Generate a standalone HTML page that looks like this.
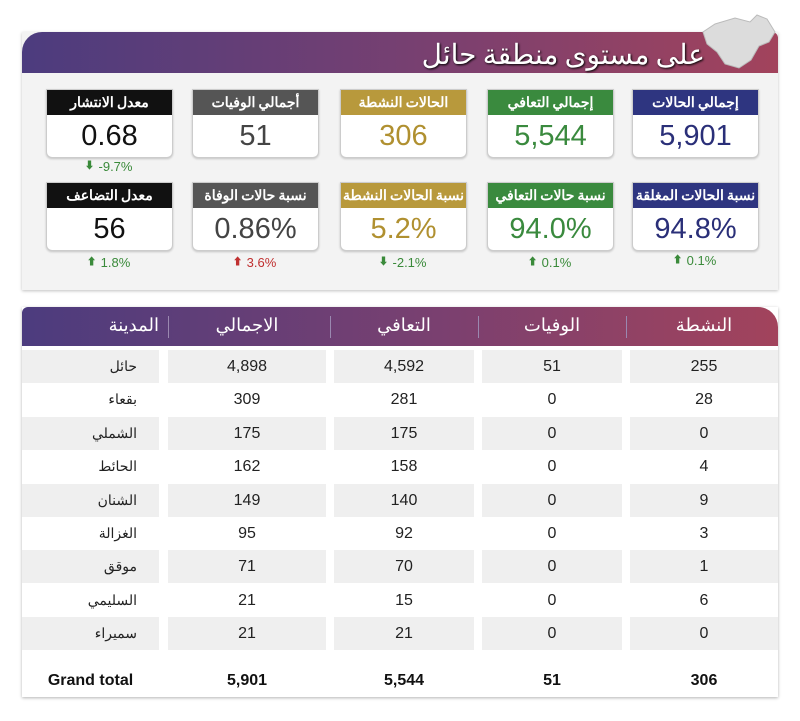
<!DOCTYPE html>
<html><head><meta charset="utf-8"><style>
body{margin:0;width:800px;height:721px;background:#fff;font-family:"Liberation Sans","Noto Sans CJK SC",sans-serif;position:relative;overflow:hidden}
.a{position:absolute}
.panel{left:22px;top:32px;width:756px;height:258px;background:#f3f3f3;box-shadow:0 1px 3px rgba(0,0,0,.25)}
.hdr{left:22px;top:32px;width:756px;height:41px;border-radius:20px 6px 0 0;background:linear-gradient(90deg,#4c3c7e,#7a4070 55%,#a2435c)}
.title{right:95px;top:33px;color:#fff;font-size:28px;font-family:"Noto Sans CJK SC",sans-serif;direction:rtl;text-shadow:1px 1px 2px #000}
.card{width:125px;height:67px;background:#fff;border:1px solid #ccc;border-radius:0 0 6px 6px;box-shadow:0 1px 2px rgba(0,0,0,.2)}
.ch{height:25px;color:#fff;font-size:14px;text-align:center;line-height:25px;font-family:"Noto Sans CJK SC",sans-serif;font-weight:bold;white-space:nowrap;overflow:hidden}
.cv{text-align:center;font-size:29px;line-height:42px}
.pc{width:125px;font-size:13px;color:#3a8a3a;display:flex;justify-content:center;gap:4px}
.pc span{font-size:10px;line-height:16px}
.th{top:307px;left:22px;width:756px;height:39px;border-radius:6px 20px 0 0;background:linear-gradient(90deg,#4c3c7e,#7a4070 55%,#a2435c)}
.tbl{left:22px;top:307px;width:756px;height:390px;box-shadow:0 1px 3px rgba(0,0,0,.3)}
.hc{color:#fff;font-size:18px;font-family:"Noto Sans CJK SC",sans-serif;top:311px;text-align:center}
.c{font-size:16px;color:#222;text-align:center;height:33px;line-height:33px}
.g{background:#efefef}
.t{font-weight:bold;font-size:16px;text-align:center;top:672px;color:#111}
</style></head><body>
<div class="a panel"></div>
<div class="a hdr"></div>
<svg class="a" style="left:695px;top:10px" width="90" height="62"><path d="M20 14 L40 8 L55 12 L62 5 L72 9 L80 22 L74 32 L64 36 L56 50 L44 58 L30 54 L22 42 L12 34 L8 22 Z" fill="#dcdcdc" stroke="#bbb"/></svg>
<div class="a title">على مستوى منطقة حائل</div>

<div class="a card" style="left:46px;top:89px"><div class="ch" style="background:#111">معدل الانتشار</div><div class="cv" style="color:#111">0.68</div></div>
<div class="a card" style="left:192px;top:89px"><div class="ch" style="background:#555">أجمالي الوفيات</div><div class="cv" style="color:#444">51</div></div>
<div class="a card" style="left:340px;top:89px"><div class="ch" style="background:#b8993c">الحالات النشطة</div><div class="cv" style="color:#b09030">306</div></div>
<div class="a card" style="left:487px;top:89px"><div class="ch" style="background:#3a8a3e">إجمالي التعافي</div><div class="cv" style="color:#3a8a3e">5,544</div></div>
<div class="a card" style="left:632px;top:89px"><div class="ch" style="background:#2e3580">إجمالي الحالات</div><div class="cv" style="color:#2a2f78">5,901</div></div>
<div class="a pc" style="left:46px;top:159px"><span>⬇</span><b style="font-weight:normal">-9.7%</b></div>
<div class="a card" style="left:46px;top:182px"><div class="ch" style="background:#111">معدل التضاعف</div><div class="cv" style="color:#111">56</div></div>
<div class="a card" style="left:192px;top:182px"><div class="ch" style="background:#555">نسبة حالات الوفاة</div><div class="cv" style="color:#444">0.86%</div></div>
<div class="a card" style="left:340px;top:182px"><div class="ch" style="background:#b8993c">نسبة الحالات النشطة</div><div class="cv" style="color:#b09030">5.2%</div></div>
<div class="a card" style="left:487px;top:182px"><div class="ch" style="background:#3a8a3e">نسبة حالات التعافي</div><div class="cv" style="color:#3a8a3e">94.0%</div></div>
<div class="a card" style="left:632px;top:182px"><div class="ch" style="background:#2e3580">نسبة الحالات المغلقة</div><div class="cv" style="color:#2a2f78">94.8%</div></div>
<div class="a pc" style="left:46px;top:255px"><span>⬆</span><b style="font-weight:normal">1.8%</b></div>
<div class="a pc" style="left:192px;top:255px;color:#c03030"><span>⬆</span><b style="font-weight:normal">3.6%</b></div>
<div class="a pc" style="left:340px;top:255px"><span>⬇</span><b style="font-weight:normal">-2.1%</b></div>
<div class="a pc" style="left:487px;top:255px"><span>⬆</span><b style="font-weight:normal">0.1%</b></div>
<div class="a pc" style="left:632px;top:253px"><span>⬆</span><b style="font-weight:normal">0.1%</b></div>

<div class="a tbl"></div>
<div class="a th"></div>
<div class="a hc" style="left:630px;width:148px">النشطة</div>
<div class="a hc" style="left:482px;width:140px">الوفيات</div>
<div class="a hc" style="left:334px;width:140px">التعافي</div>
<div class="a hc" style="left:168px;width:158px">الاجمالي</div>
<div class="a hc" style="left:22px;width:137px;text-align:right">المدينة</div>
<div class="a" style="left:168px;top:316px;width:1px;height:22px;background:#9a88b0"></div>
<div class="a" style="left:330px;top:316px;width:1px;height:22px;background:#9a88b0"></div>
<div class="a" style="left:478px;top:316px;width:1px;height:22px;background:#9a88b0"></div>
<div class="a" style="left:626px;top:316px;width:1px;height:22px;background:#9a88b0"></div>

<div id="rows"></div>
<script>
var d=[["حائل","4,898","4,592","51","255"],["بقعاء","309","281","0","28"],["الشملي","175","175","0","0"],["الحائط","162","158","0","4"],["الشنان","149","140","0","9"],["الغزالة","95","92","0","3"],["موقق","71","70","0","1"],["السليمي","21","15","0","6"],["سميراء","21","21","0","0"]];
var cols=[[22,137],[168,158],[334,140],[482,140],[630,148]];
var h="";
d.forEach(function(r,i){var y=350+i*33.4;var g=i%2==0?" g":"";
r.forEach(function(v,j){var st="left:"+cols[j][0]+"px;top:"+y+"px;width:"+cols[j][1]+"px;";
if(j==0)st+="font-family:'Noto Sans CJK SC',sans-serif;font-size:14px;text-align:right;box-sizing:border-box;padding-right:22px;";
h+='<div class="a c'+g+'" style="'+st+'">'+v+'</div>';});});
document.getElementById("rows").innerHTML=h;
</script>
<div class="a t" style="left:22px;width:137px">Grand total</div>
<div class="a t" style="left:168px;width:158px">5,901</div>
<div class="a t" style="left:334px;width:140px">5,544</div>
<div class="a t" style="left:482px;width:140px">51</div>
<div class="a t" style="left:630px;width:148px">306</div>
</body></html>
